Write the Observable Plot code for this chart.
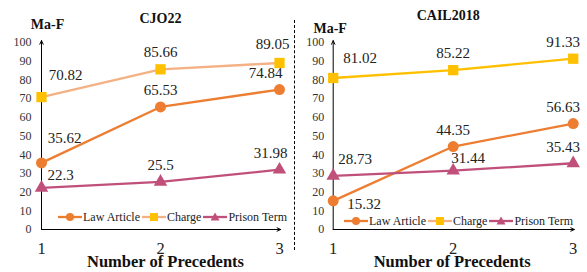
<!DOCTYPE html>
<html><head><meta charset="utf-8">
<script src="https://cdn.jsdelivr.net/npm/d3@7"></script>
<script src="https://cdn.jsdelivr.net/npm/@observablehq/plot@0.6"></script>
<style>
body{margin:0;background:#fff;}
#wrap{position:relative;width:587px;height:272px;font-family:"Liberation Serif","Times New Roman",Tinos,"DejaVu Serif",serif;overflow:hidden}
#wrap svg, #wrap svg text{font-family:"Liberation Serif","Times New Roman",Tinos,"DejaVu Serif",serif !important;}
.panel{position:absolute;top:0;}
.legend{position:absolute;display:flex;align-items:center;font-size:12px;white-space:nowrap;color:#222;line-height:1}
.legend svg{display:block;margin-right:1px}
.legend .item{display:flex;align-items:center;margin-right:2px}
.divider{position:absolute;left:293.5px;top:20px;height:230px;width:0;border-left:1px dashed #000}
</style></head><body><div id="wrap"></div><script>
// ---- data ----
const precedents = [1, 2, 3];
const yTicks = [0, 10, 20, 30, 40, 50, 60, 70, 80, 90, 100];
const seriesNames = ["Law Article", "Charge", "Prison Term"];
const cjo22Law = [35.62, 65.53, 74.84];
const cjo22Charge = [70.82, 85.66, 89.05];
const cjo22Prison = [22.3, 25.5, 31.98];
const cailLaw = [15.32, 44.35, 56.63];
const cailCharge = [81.02, 85.22, 91.33];
const cailPrison = [28.73, 31.44, 35.43];

// ---- styles ----
const lawColor = "#ED7D31";
const chargeMarker = "#FFC000";
const prisonColor = "#C0507A";
const fontStack = "'Liberation Serif', 'Times New Roman', Tinos, 'DejaVu Serif', serif";

// label offsets [dx, dy] per point (layout)
const cjoOffsets = {
  law: [[23, -25], [0, -17], [-14, -16]],
  charge: [[24, -22], [0, -17], [-7, -19]],
  prison: [[19, -13], [0, -17], [-9, -17]]
};
const cailOffsets = {
  law: [[31, 3], [0, -16], [-10, -16]],
  charge: [[27, -20], [0, -17], [-10, -17]],
  prison: [[22, -17], [15, -13], [-10, -16]]
};

function rows(vals) { return precedents.map((p, i) => ({x: p, y: vals[i]})); }

function panel(cfg) {
  const xDom = [precedents[0], precedents[precedents.length - 1]];
  const yDom = [yTicks[0], yTicks[yTicks.length - 1]];
  const axes = [
    {x1: xDom[0], y1: yDom[0], x2: xDom[0], y2: yDom[1] + 1},
    {x1: xDom[0], y1: yDom[0], x2: xDom[1] + 0.01, y2: yDom[0]}
  ];
  const series = [
    {vals: cfg.law, line: lawColor, fill: lawColor, symbol: "circle", r: 5.5, off: cfg.off.law},
    {vals: cfg.charge, line: cfg.chargeLine, fill: chargeMarker, symbol: "square", r: 5.8, off: cfg.off.charge},
    {vals: cfg.prison, line: prisonColor, fill: prisonColor, symbol: "triangle", r: 5, off: cfg.off.prison}
  ];
  const marks = [
    Plot.axisY({ticks: yTicks, tickSize: 0, tickPadding: cfg.tickPad, fontSize: 12, label: null, fill: "#333"}),
    Plot.axisX({ticks: precedents, tickSize: 0, tickPadding: 12.5, fontSize: 16.5, label: null, tickFormat: d => String(d), fill: "#222"}),
    Plot.arrow(axes, {x1: "x1", y1: "y1", x2: "x2", y2: "y2", stroke: "#000", strokeWidth: 1, headLength: 6, headAngle: 50}),
  ];
  for (const s of series) {
    const data = rows(s.vals);
    marks.push(Plot.line(data, {x: "x", y: "y", stroke: s.line, strokeWidth: 2.3}));
    marks.push(Plot.dot(data, {x: "x", y: "y", symbol: s.symbol, r: s.r, fill: s.fill, stroke: "none"}));
    data.forEach((d, i) => {
      marks.push(Plot.text([d], {x: "x", y: "y", text: d => String(d.y), dx: s.off[i][0], dy: s.off[i][1], fontSize: 15, fill: "#222"}));
    });
  }
  marks.push(Plot.text([cfg.title], {frameAnchor: "top", lineAnchor: "middle", dx: cfg.titleDx, dy: cfg.titleDy, fontSize: 14, fontWeight: "bold", fill: "#111"}));
  marks.push(Plot.text(["Ma-F"], {frameAnchor: "top-left", lineAnchor: "middle", textAnchor: "middle", dx: cfg.mafDx, dy: cfg.mafDy, fontSize: 14, fontWeight: "bold", fill: "#111"}));
  marks.push(Plot.text(["Number of Precedents"], {frameAnchor: "bottom", lineAnchor: "middle", dx: cfg.xlDx, dy: 32.5, fontSize: 16.5, fontWeight: "bold", fill: "#111"}));
  return Plot.plot({
    width: cfg.width, height: 272,
    marginLeft: cfg.ml, marginRight: cfg.mr, marginTop: 42, marginBottom: 43,
    style: {fontFamily: fontStack, background: "transparent", overflow: "visible"},
    x: {domain: xDom}, y: {domain: yDom},
    marks
  });
}

function legend(left, top) {
  const div = document.createElement("div");
  div.className = "legend";
  div.style.left = left + "px";
  div.style.top = (top - 7) + "px";
  const defs = [
    {name: seriesNames[0], line: lawColor, fill: lawColor, sym: "circle"},
    {name: seriesNames[1], line: "#F4B183", fill: chargeMarker, sym: "square"},
    {name: seriesNames[2], line: prisonColor, fill: prisonColor, sym: "triangle"}
  ];
  for (const d of defs) {
    const it = document.createElement("div");
    it.className = "item";
    let m;
    if (d.sym === "circle") m = `<circle cx="12" cy="7" r="4" fill="${d.fill}"/>`;
    else if (d.sym === "square") m = `<rect x="8" y="3" width="8" height="8" fill="${d.fill}"/>`;
    else m = `<path d="M12,2.5L16.5,10.5L7.5,10.5Z" fill="${d.fill}"/>`;
    it.innerHTML = `<svg width="24" height="14"><line x1="0" x2="24" y1="7" y2="7" stroke="${d.line}" stroke-width="2.3"/>${m}</svg><span>${d.name}</span>`;
    div.appendChild(it);
  }
  return div;
}

const wrap = document.getElementById("wrap");
const left = panel({title: "CJO22", law: cjo22Law, charge: cjo22Charge, prison: cjo22Prison, chargeLine: "#F4B183",
  width: 294, ml: 41, mr: 15, tickPad: 10, off: cjoOffsets, titleDx: 0, titleDy: -24, mafDx: 6, mafDy: -18, xlDx: 5});
left.classList.add("panel"); left.style.left = "0px";
const right = panel({title: "CAIL2018", law: cailLaw, charge: cailCharge, prison: cailPrison, chargeLine: chargeMarker,
  width: 293, ml: 38.7, mr: 14.3, tickPad: 9, off: cailOffsets, titleDx: -5, titleDy: -27, mafDx: -3, mafDy: -14, xlDx: -1});
right.classList.add("panel"); right.style.left = "294px";
wrap.appendChild(left);
wrap.appendChild(right);
const dv = document.createElement("div"); dv.className = "divider"; wrap.appendChild(dv);
const lg1 = legend(58, 217); wrap.appendChild(lg1);
const lg2 = legend(344, 221); wrap.appendChild(lg2);
</script></body></html>
